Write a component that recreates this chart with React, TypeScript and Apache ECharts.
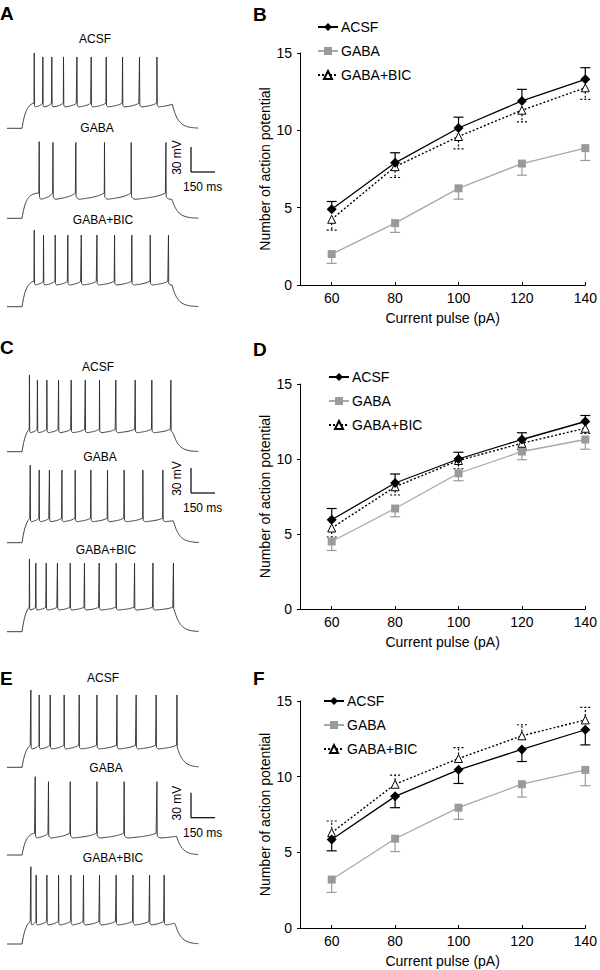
import React, { useEffect, useRef } from "react";
import * as echarts from "echarts";

const FONT = "'Liberation Sans', Arial, Helvetica, sans-serif";

// ---------- Summary data (number of action potentials) ----------
const CURRENTS = [60, 80, 100, 120, 140];

const B_ACSF = [4.9, 7.9, 10.15, 11.9, 13.3];
const B_ACSF_ERR = [0.5, 0.65, 0.7, 0.75, 0.75];
const B_GABA = [2.0, 4.0, 6.25, 7.85, 8.85];
const B_GABA_ERR = [0.6, 0.6, 0.7, 0.75, 0.8];
const B_BIC = [4.25, 7.65, 9.6, 11.3, 12.75];
const B_BIC_ERR = [0.7, 0.7, 0.8, 0.75, 0.75];

const D_ACSF = [5.95, 8.4, 10.0, 11.3, 12.5];
const D_ACSF_ERR = [0.75, 0.6, 0.45, 0.45, 0.4];
const D_GABA = [4.5, 6.7, 9.05, 10.5, 11.3];
const D_GABA_ERR = [0.6, 0.55, 0.5, 0.55, 0.65];
const D_BIC = [5.4, 8.15, 9.9, 11.05, 12.05];
const D_BIC_ERR = [0.6, 0.55, 0.55, 0.4, 0.35];

const F_ACSF = [5.85, 8.7, 10.45, 11.8, 13.1];
const F_ACSF_ERR = [0.75, 0.75, 0.9, 0.8, 1.0];
const F_GABA = [3.2, 5.9, 7.95, 9.5, 10.45];
const F_GABA_ERR = [0.85, 0.85, 0.77, 0.85, 1.05];
const F_BIC = [6.3, 9.5, 11.2, 12.7, 13.75];
const F_BIC_ERR = [0.77, 0.6, 0.72, 0.73, 0.83];

// direction of error bar (+1 up, -1 down)
const B_DIR = [1, -1, -1];
const D_DIR = [1, -1, -1];
const F_DIR = [-1, -1, 1];

const LEGEND_NAMES = ["ACSF", "GABA", "GABA+BIC"];
const Y_TICKS_MAX = 15;

// ---------- Voltage trace data (spike times in ms, levels in mV) ----------
const A_ACSF_SPIKES = [169, 223, 279, 352, 436, 525, 619, 721, 827, 936];
const A_GABA_SPIKES = [200, 286, 429, 608, 775, 992];
const A_BIC_SPIKES = [169, 227, 300, 379, 463, 561, 671, 779, 894, 1008];
const C_ACSF_SPIKES = [139, 189, 248, 321, 400, 488, 577, 679, 800, 904, 1023];
const C_GABA_SPIKES = [144, 200, 264, 342, 425, 523, 627, 731, 848, 973];
const C_BIC_SPIKES = [139, 179, 244, 314, 394, 483, 575, 681, 796, 911, 1039];
const E_ACSF_SPIKES = [148, 200, 269, 356, 450, 561, 686, 806, 931, 1061];
const E_GABA_SPIKES = [175, 258, 394, 561, 731, 936];
const E_BIC_SPIKES = [148, 181, 248, 321, 398, 477, 577, 681, 786, 890, 981];

// [pulse on, pulse off, baseline, AHP trough, threshold, peak, first peak]
const A_ACSF_LEVELS = [94, 1033, -70, -44.4, -39.6, 15.6, 20.4];
const A_GABA_LEVELS = [94, 1031, -70, -47.2, -39.6, 21, 22];
const A_BIC_LEVELS = [94, 1031, -70, -44, -39.2, 16, 22];
const C_ACSF_LEVELS = [94, 1038, -70, -47.2, -42.8, 16, 22];
const C_GABA_LEVELS = [94, 1040, -70, -44.8, -40.4, 17.2, 23.2];
const C_BIC_LEVELS = [94, 1045, -70, -44, -40.4, 12.4, 17.2];
const E_ACSF_LEVELS = [94, 1065, -70, -48, -43.2, 16.8, 22.8];
const E_GABA_LEVELS = [94, 1060, -70, -49.6, -43.6, 18, 24];
const E_BIC_LEVELS = [94, 1050, -70, -47.2, -42.4, 12.8, 22.8];

const TRACES = [
  { spikes: A_ACSF_SPIKES, levels: A_ACSF_LEVELS, label: "ACSF" },
  { spikes: A_GABA_SPIKES, levels: A_GABA_LEVELS, label: "GABA" },
  { spikes: A_BIC_SPIKES, levels: A_BIC_LEVELS, label: "GABA+BIC" },
  { spikes: C_ACSF_SPIKES, levels: C_ACSF_LEVELS, label: "ACSF" },
  { spikes: C_GABA_SPIKES, levels: C_GABA_LEVELS, label: "GABA" },
  { spikes: C_BIC_SPIKES, levels: C_BIC_LEVELS, label: "GABA+BIC" },
  { spikes: E_ACSF_SPIKES, levels: E_ACSF_LEVELS, label: "ACSF" },
  { spikes: E_GABA_SPIKES, levels: E_GABA_LEVELS, label: "GABA" },
  { spikes: E_BIC_SPIKES, levels: E_BIC_LEVELS, label: "GABA+BIC" },
];

// layout (pixel positions)
const TRACE_BASE_PX = [128.3, 218.3, 306.7, 451.7, 542.7, 631.7, 767.3, 855, 944];
const TRACE_LABEL_POS = [
  [95, 39], [97, 128], [103, 220],
  [98, 367], [100, 457], [106, 550],
  [103, 678], [106, 768], [113, 858],
];
const SCALE_BAR_TOP = [147, 468, 792.7];
const CHART_GRIDS = [
  { top: 53, height: 232 },
  { top: 384, height: 225 },
  { top: 701, height: 227 },
];
const LEGEND_POS = [
  { left: 317, top: 20 },
  { left: 328, top: 370 },
  { left: 323, top: 694 },
];
const MV_MIN = -80;
const MV_MAX = 30;
const PX_PER_MV = 1 / 1.2;
const T_MAX = 1200;

// inter-spike shape: short AHP dip, slow ramp, hook into next spike
function isiShape(u: number): number {
  if (u < 0.12) {
    const a = 1 - u / 0.12;
    return 0.4 * a * a;
  }
  const w = (u - 0.12) / 0.88;
  return 0.55 * w + 0.45 * Math.pow(w, 4);
}

function buildTrace(spikes: number[], lv: number[]): number[][] {
  const [on, off, base, trough, thr, peak, firstPeak] = lv;
  const pts: number[][] = [];
  const step = 3;
  pts.push([0, base]);
  pts.push([on, base]);
  const tauR = 25;
  const firstT = spikes.length ? spikes[0] : off;
  const norm = 1 - Math.exp(-(firstT - on) / tauR);
  for (let t = on + step; t < firstT; t += step) {
    const f = (1 - Math.exp(-(t - on) / tauR)) / norm;
    pts.push([t, base + (thr - base) * f]);
  }
  let vEnd = thr;
  for (let i = 0; i < spikes.length; i++) {
    const ts = spikes[i];
    const pk = i === 0 ? firstPeak : peak;
    pts.push([ts, thr]);
    pts.push([ts + 1.2, pk]);
    const tA = ts + 3;
    pts.push([tA, trough + (thr - trough) * isiShape(0)]);
    const last = i === spikes.length - 1;
    const next = last ? off : spikes[i + 1];
    const isi = !last ? next - ts : i > 0 ? ts - spikes[i - 1] : next - ts;
    const span = Math.max(isi - 3, 1);
    for (let t = tA + 2; t < next; t += 2) {
      const u = Math.min(1, (t - tA) / span);
      pts.push([t, trough + (thr - trough) * isiShape(u)]);
    }
    if (last) {
      const u = Math.min(1, Math.max(0, (next - tA) / span));
      vEnd = trough + (thr - trough) * isiShape(u);
    }
  }
  pts.push([off, vEnd]);
  for (let t = off + step; t <= T_MAX; t += step) {
    pts.push([t, vEnd + (base - vEnd) * (1 - Math.exp(-(t - off) / 35))]);
  }
  return pts;
}

function errSeries(name: string, gridIdx: number, vals: number[], errs: number[], dir: number, color: string, dash: number[] | null) {
  return {
    type: "custom",
    name,
    xAxisIndex: gridIdx,
    yAxisIndex: gridIdx,
    z: 1,
    silent: true,
    data: CURRENTS.map((c, i) => [c, vals[i], errs[i], dir]),
    encode: { x: 0, y: 1 },
    renderItem: (params: any, api: any) => {
      const x = api.value(0);
      const y = api.value(1);
      const e = api.value(2);
      const d = api.value(3);
      const p0 = api.coord([x, y]);
      const p1 = api.coord([x, y + d * e]);
      const style: any = { stroke: color, lineWidth: 1.2 };
      if (dash) style.lineDash = dash;
      return {
        type: "group",
        children: [
          { type: "line", shape: { x1: p0[0], y1: p0[1], x2: p1[0], y2: p1[1] }, style },
          { type: "line", shape: { x1: p1[0] - 5, y1: p1[1], x2: p1[0] + 5, y2: p1[1] }, style },
        ],
      };
    },
  };
}

function panelSeries(gridIdx: number, acsf: number[], acsfE: number[], gaba: number[], gabaE: number[], bic: number[], bicE: number[], dirs: number[]) {
  return [
    errSeries("errA" + gridIdx, gridIdx, acsf, acsfE, dirs[0], "#000", null),
    errSeries("errG" + gridIdx, gridIdx, gaba, gabaE, dirs[1], "#9a9a9a", null),
    errSeries("errB" + gridIdx, gridIdx, bic, bicE, dirs[2], "#000", [2, 2]),
    {
      type: "line",
      name: "GABA",
      xAxisIndex: gridIdx,
      yAxisIndex: gridIdx,
      z: 2,
      data: CURRENTS.map((c, i) => [c, gaba[i]]),
      symbol: "rect",
      symbolSize: 8,
      itemStyle: { color: "#9a9a9a" },
      lineStyle: { color: "#a8a8a8", width: 1.3 },
    },
    {
      type: "line",
      name: "GABA+BIC",
      xAxisIndex: gridIdx,
      yAxisIndex: gridIdx,
      z: 3,
      data: CURRENTS.map((c, i) => [c, bic[i]]),
      symbol: "triangle",
      symbolSize: 8,
      itemStyle: { color: "#fff", borderColor: "#000", borderWidth: 1 },
      lineStyle: { color: "#000", width: 1.4, type: [2, 2] },
    },
    {
      type: "line",
      name: "ACSF",
      xAxisIndex: gridIdx,
      yAxisIndex: gridIdx,
      z: 4,
      data: CURRENTS.map((c, i) => [c, acsf[i]]),
      symbol: "diamond",
      symbolSize: 10,
      itemStyle: { color: "#000" },
      lineStyle: { color: "#000", width: 1.3 },
    },
  ];
}

export default function App() {
  const ref = useRef<HTMLDivElement>(null);
  useEffect(() => {
    document.body.style.margin = "0";
    const chart = echarts.init(ref.current!, null, { renderer: "svg" });

    const grids: any[] = [];
    const xAxes: any[] = [];
    const yAxes: any[] = [];
    const series: any[] = [];

    CHART_GRIDS.forEach((g, i) => {
      grids.push({ left: 300, width: 287, top: g.top, height: g.height });
      xAxes.push({
        gridIndex: i,
        type: "value",
        min: 50,
        max: 140,
        axisLine: { lineStyle: { color: "#000", width: 1 } },
        axisTick: { show: true, inside: true, length: 3, customValues: CURRENTS, lineStyle: { color: "#000" } },
        axisLabel: { customValues: CURRENTS, fontSize: 14, color: "#000", margin: 6, fontFamily: FONT },
        splitLine: { show: false },
        name: "Current pulse (pA)",
        nameLocation: "middle",
        nameGap: 26,
        nameTextStyle: { fontSize: 14, color: "#000", fontFamily: FONT },
      });
      yAxes.push({
        gridIndex: i,
        type: "value",
        min: 0,
        max: Y_TICKS_MAX,
        interval: 5,
        axisLine: { show: true, lineStyle: { color: "#000", width: 1 } },
        axisTick: { show: true, length: 3, lineStyle: { color: "#000" } },
        axisLabel: { fontSize: 14, color: "#000", margin: 8, fontFamily: FONT },
        splitLine: { show: false },
        name: "Number of action potential",
        nameLocation: "middle",
        nameGap: 28,
        nameTextStyle: { fontSize: 14, color: "#000", fontFamily: FONT },
      });
    });

    series.push(...panelSeries(0, B_ACSF, B_ACSF_ERR, B_GABA, B_GABA_ERR, B_BIC, B_BIC_ERR, B_DIR));
    series.push(...panelSeries(1, D_ACSF, D_ACSF_ERR, D_GABA, D_GABA_ERR, D_BIC, D_BIC_ERR, D_DIR));
    series.push(...panelSeries(2, F_ACSF, F_ACSF_ERR, F_GABA, F_GABA_ERR, F_BIC, F_BIC_ERR, F_DIR));

    const graphic: any[] = [];

    TRACES.forEach((tr, k) => {
      const gi = 3 + k;
      const top = TRACE_BASE_PX[k] - (MV_MAX - tr.levels[2]) * PX_PER_MV;
      grids.push({ left: 7, width: 192, top, height: (MV_MAX - MV_MIN) * PX_PER_MV });
      xAxes.push({ gridIndex: gi, type: "value", min: 0, max: T_MAX, show: false });
      yAxes.push({ gridIndex: gi, type: "value", min: MV_MIN, max: MV_MAX, show: false });
      series.push({
        type: "line",
        name: "trace" + k,
        xAxisIndex: gi,
        yAxisIndex: gi,
        data: buildTrace(tr.spikes, tr.levels),
        showSymbol: false,
        symbol: "none",
        silent: true,
        lineStyle: { color: "#2a2a2a", width: 0.9 },
      });
      const [lx, ly] = TRACE_LABEL_POS[k];
      graphic.push({
        type: "text",
        x: lx,
        y: ly,
        style: { text: tr.label, fontSize: 12, fontFamily: FONT, fill: "#000", align: "center", verticalAlign: "middle" },
      });
    });

    SCALE_BAR_TOP.forEach((y0) => {
      const vLen = 30 * PX_PER_MV;
      const hLen = (150 / T_MAX) * 192;
      graphic.push({ type: "line", shape: { x1: 191, y1: y0, x2: 191, y2: y0 + vLen }, style: { stroke: "#000", lineWidth: 1.2 } });
      graphic.push({ type: "line", shape: { x1: 191, y1: y0 + vLen, x2: 191 + hLen, y2: y0 + vLen }, style: { stroke: "#000", lineWidth: 1.2 } });
      graphic.push({
        type: "text",
        x: 177,
        y: y0 + vLen / 2 - 2,
        rotation: Math.PI / 2,
        style: { text: "30 mV", fontSize: 12, fontFamily: FONT, fill: "#000", align: "center", verticalAlign: "middle" },
      });
      graphic.push({
        type: "text",
        x: 183,
        y: y0 + vLen + 15,
        style: { text: "150 ms", fontSize: 12, fontFamily: FONT, fill: "#000", align: "left", verticalAlign: "middle" },
      });
    });

    const letters: [string, number, number][] = [
      ["A", 0, 4], ["B", 253, 5], ["C", 0, 338], ["D", 253, 340], ["E", 0, 669], ["F", 253, 669],
    ];
    letters.forEach(([t, x, y]) => {
      graphic.push({
        type: "text",
        x,
        y,
        style: { text: t, fontSize: 19, fontWeight: "bold", fontFamily: FONT, fill: "#000", align: "left", verticalAlign: "top" },
      });
    });

    const legends = LEGEND_POS.map((p) => ({
      left: p.left,
      top: p.top,
      orient: "vertical",
      data: LEGEND_NAMES,
      itemWidth: 20,
      itemHeight: 10,
      itemGap: 10,
      padding: 0,
      selectedMode: false,
      textStyle: { fontSize: 14, color: "#000", fontFamily: FONT, lineHeight: 14, padding: [0, 0, 0, -2] },
    }));

    chart.setOption({
      animation: false,
      backgroundColor: "#fff",
      grid: grids,
      xAxis: xAxes,
      yAxis: yAxes,
      legend: legends,
      series,
      graphic,
    });
    return () => chart.dispose();
  }, []);
  return <div ref={ref} style={{ width: 600, height: 970 }} />;
}
